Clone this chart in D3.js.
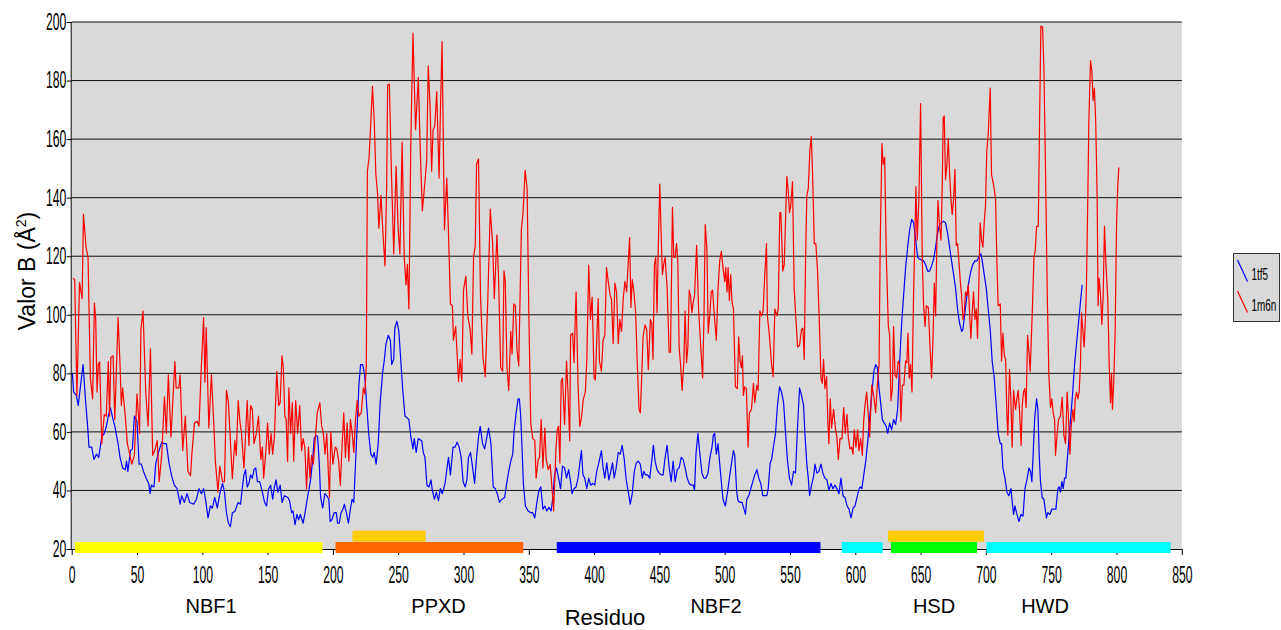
<!DOCTYPE html>
<html>
<head>
<meta charset="utf-8">
<script src="https://cdn.jsdelivr.net/npm/d3@7"></script>
<style>
  html, body { margin: 0; padding: 0; background: #ffffff; }
  svg { display: block; font-family: "Liberation Sans", Arial, sans-serif; }
</style>
</head>
<body>
<svg id="chart" width="1281" height="630"></svg>
<script>
// ---------- DATA ----------
const seriesNames = ["1tf5", "1m6n"];
const seriesColors = ["#0000ff", "#ff0000"];

// 1tf5 : [residue, B value]
const data1tf5 = [
[0.5,80],[1.5,73.6],[3.6,72.5],[5,69],[8.7,83],[10.5,71.3],[12,63],[13.3,54.8],[15.3,54.8],[17,50.6],[19,52.4],[20.7,51.3],[23,58.3],[25,59.5],[26.6,62],[28,65.4],[29.6,68.3],[31.7,64.2],[33,62],[35.5,56],[37,51.3],[39,47.7],[41,47.1],[42,50],[43,46.5],[45,53.6],[46.5,54.2],[48,65.4],[50,63.6],[51.6,49],[53.3,49],[55,46.5],[57,44.2],[59,42.4],[60,38.9],[61,41.8],[63,41.2],[64.3,49],[66.4,53],[69,56.5],[70.5,56],[72.5,56],[74.5,49.4],[76.6,44.8],[78.6,41.8],[80.7,40.6],[83,35.3],[84.2,38.2],[86.3,35.9],[88.3,38.9],[90.4,35.9],[93.4,35.3],[95.5,37],[97.5,40.6],[99.3,38.9],[101,40.6],[102.6,36.5],[104.4,30.6],[106.2,34.7],[107.7,34],[109.5,37.6],[111.5,34],[113.4,38.9],[115.5,42.4],[117,39.4],[118.5,32.3],[120,28.8],[121.5,27.6],[123,32.3],[125,32.9],[127.4,35.9],
[129.3,35.3],[130.6,40.6],[131.9,45.3],[133.1,47.1],[134.4,41.2],[135.7,42.4],[137,45.3],[138.3,44.2],[139.6,47.1],[140.9,47.7],[142.2,43],[144,43],[146,39.4],[147.7,35.9],[149.2,34.7],[150.8,40.6],[152.3,41.8],[153.9,37],[155.2,41.2],[156.5,43.6],[157.8,39.4],[159.6,41.8],[161.1,35.9],[162.9,38.2],[165.5,37.6],[166.8,36.5],[168.4,32.4],[169.4,33],[171,28.3],[172.5,31.8],[173.8,30],[175.1,31.8],[177.2,28.8],[178.7,32.4],[180.3,37],[181.8,40.6],[183.1,44.2],[184.4,50],[185.7,57.7],[187,58.9],[188.3,58.3],[189.6,49],[190.6,37.6],[192.2,34],[193.8,38.9],[195.3,38.2],[196.9,37],[197.9,29.4],[199.2,30],[201,32.4],[202.6,32.4],[203.6,28.8],[204.9,28.8],[206.2,32.4],[207.7,33.6],[208.8,35.3],[210.3,32.4],[211.9,28.8],[213.4,33.6],[214.7,37],[216,35.9],[217.3,49],[218.6,61.9],[219.9,76],[221.2,83],[222.8,83],[224.3,79.5],[225.9,69],[227.4,59.5],[229,52.4],[230.5,51.3],[231.6,53],[233.1,49],[234.7,56],[236.2,70],[238,80],[239.3,84.2],[240.6,90],[242.4,93],[244,91.3],[245,83],[246.6,84.8],
[247.4,95.4],[249,97.8],[250.5,94.3],[252,84.2],[253.6,73.6],[255.2,65.4],[256.8,64.8],[258.2,64.2],[259.7,58.3],[261.3,54.2],[262.3,57.7],[263.8,53],[265.4,57.7],[268,57],[269.2,53],[270.5,51.3],[272,41.8],[273.6,41.2],[275.1,43.6],[276.1,40.1],[277.7,37],[279.2,39.4],[280.8,36.5],[282.3,40.6],[283.8,38.9],[285.9,42.4],[287.4,47.7],[288.5,51.3],[290,45.3],[292,54.8],[293.6,54.8],[295.1,56.5],[296.7,54.8],[298.2,51.3],[299.7,43],[301.3,41.2],[302.6,43.6],[303.8,51.3],[305.4,53],[307,47.7],[308.5,42.4],[310,51.3],[311.5,58.3],[312.8,61.9],[314.6,56],[316.2,54.2],[317.7,57.7],[319.2,61.3],[321,56],[322.8,41.2],[324.4,40.6],[325.9,38.9],[327.5,35.9],[329.5,37],[331.5,37.6],[333.1,42.4],[334.6,46.5],[336.2,50],[337.7,52.4],[338.7,60],[340.3,66.5],[341.8,71.3],[342.8,71.3],[343.8,65.4],[344.9,53.6],[345.9,41.8],[347.4,34.7],[349.5,33],[351.5,32.4],[353,32.4],[354.6,30.6],[356.2,35.9],[357.7,40],[359.2,41.2],[360.8,33.6],[362.3,34.7],[363.8,33],[365.4,34.2],[367,33],[368,35.9],
[369.7,45.3],[371.2,47.7],[372.8,44.2],[374.3,40.6],[375.8,48.3],[377.4,47.7],[378.9,44.2],[380.5,47.1],[382,43],[383.1,38.9],[384.6,40.6],[386.2,41.2],[387.7,44.2],[389,49],[390.3,53.6],[391.5,45.3],[392.8,44.2],[394.4,40.6],[395.9,44.2],[397.4,41.8],[399,42.4],[400.5,41.8],[402,46.5],[403.6,49.4],[405.6,53.6],[406.9,47.7],[408.2,44.2],[409.7,49.4],[411.3,43.6],[412.8,46.5],[414.1,49.4],[415.4,44.2],[416.9,47.7],[418.5,53],[420,52.4],[421.5,55.4],[423.1,50.6],[424.6,43.6],[426.2,39.4],[427.7,35.3],[429.2,38.9],[430.8,46.5],[432.3,49.4],[433.8,50],[435.4,48.9],[436.9,44.2],[438,46.5],[439.5,45.3],[441,45.3],[442.6,44.2],[444.1,50],[445.4,55.4],[446.7,50],[448.2,47.1],[449.8,45.9],[451.3,45.3],[452.8,45.3],[454.4,51.3],[455.9,55.4],[457.5,47.7],[459,43],[460.5,50],[462.1,43],[463.6,47.1],[465.1,47.7],[466.7,51.3],[468.2,50.6],[469.7,47.7],[471.3,44.2],[472.8,42.4],[474.4,41.8],[475.9,41.8],[476.9,40],[478,52.4],[479.5,59.5],[481,52.4],[482.6,45.9],[484.1,44.2],[485.6,44.2],[487.2,45.9],[488.7,51.3],[490.3,54.8],[491.3,58.9],
[492.3,59.5],[493.6,52.4],[494.9,56],[496.2,49],[497.4,43],[498.7,37],[500.5,34.7],[502,38.9],[503.6,44.2],[505.1,49],[506.7,53.6],[507.7,52],[509.2,39.4],[510.2,36.5],[511.8,35.9],[513.3,35.9],[514.8,33.6],[515.9,31.8],[516.9,37],[518.4,38.2],[520,40.6],[521.5,43],[523,45.3],[524.6,47.1],[526.1,44.2],[527.6,42.4],[529.2,38.2],[530.7,38.2],[532.3,38.2],[533.3,40.6],[534.8,49.4],[535.9,50.6],[537.3,54.8],[538.9,59.5],[540.4,69],[542,75.4],[543.5,73.6],[545.1,70],[546.6,59.5],[548.1,50],[549.6,44.2],[551.2,41.8],[552.7,46.5],[554.2,45.9],[555.8,61.9],[557.3,75],[558.8,72.5],[560.4,69],[561.4,59.5],[562.9,49],[564,44.2],[565,38.2],[566.5,41.8],[568.1,44.8],[569.1,49],[570.6,45.9],[572.1,46.5],[573.7,49],[575.2,45.9],[576.7,44.2],[578.3,43.6],[579.8,40],[581.4,42.4],[582.9,40.6],[584.4,41.8],[586,40.6],[587.5,38.9],[589,44.2],[590.6,38.2],[592.1,37.6],[593.7,34.7],[595.2,33.6],[596.7,30.6],[598.3,34],[599.8,34.7],[601.3,37.6],[602.9,40.6],[603.9,41.2],[605,40.6],[606.5,45.3],[608,50],[609.6,57],[611.1,65.4],[612.6,72.5],[614.2,80.7],
[615.6,83],[616.9,81.9],[618.2,74.8],[619.4,70],[620.7,64.2],[622.2,63],[623.7,61.9],[624.8,59.5],[626.3,63],[627.8,60.7],[629.3,64.2],[630.9,62.5],[632.4,67.7],[633.9,83],[635.5,97.2],[637,106.6],[638.5,116.1],[640.1,123.1],[641.6,129],[643.2,132.6],[644.7,131.4],[646.2,125.5],[647.8,119.6],[649.3,119],[650.8,118.7],[652.3,118.4],[653.8,117.2],[655.4,114.9],[656.9,114.9],[658.4,116.7],[660,119],[661.5,123.1],[663,127.9],[664.5,130.8],[666.1,131.4],[667.6,132],[669.1,131.4],[670.7,127.9],[672.2,123.1],[673.7,118.4],[675.3,113.7],[676.8,109],[678.3,101.9],[679.8,97.2],[681.4,94.3],[682.4,94.9],[683.9,100.7],[685.5,106.6],[687,111.4],[688.5,114.9],[690,117.2],[691.6,118.4],[693.1,118.4],[694.6,119.6],[696.2,120.8],[697.2,118.4],[698.7,113.7],[700.3,109],[701.8,101.9],[703.3,94.9],[704.8,84.2],[706.4,78.4],[707.9,69],[709.4,59.5],[711,56],[712,56],[713,47.7],[714.6,44.2],[716.1,39.4],[717.6,38.2],[719.2,40.6],[720.2,35.9],[721.2,31.8],[722.2,34.7],[723.8,31.8],[725.3,29.4],[726.8,31.8],[728.4,31.2],[729.9,40.6],[731.4,43.6],[733,47.7],
[734.2,46.5],[735.2,43],[736.3,53.6],[737.3,64.2],[738.8,71.3],[739.8,67.7],[740.8,52.4],[741.8,43],[743.1,37.6],[744.4,37],[745.4,33.6],[746.4,30.6],[747.4,32.4],[749,31.8],[750.5,33.6],[752,33.6],[753.6,33.6],[755.1,40.6],[756.1,41.2],[757.1,39.4],[758.2,43],[759.2,40.6],[760.2,44.2],[761.2,44.2],[762.2,50],[763.5,57],[764.8,64.2],[766.3,72.5],[767.9,83],[769.4,90.2],[770.9,97.2],[772.4,104.3],[773.7,110.2]
];

// 1m6n : [residue, B value]
const data1m6n = [
[1,112.5],[2.3,112],[4,72.5],[6,111],[8,105.5],[9,134.3],[11,123],[12.5,119.6],[14.3,78.4],[16,71.3],[17.4,104],[18.4,98.4],[19.4,73.6],[20.4,83],[21.4,84],[23,56],[25,66],[26.5,65.4],[28,84],[29,65.4],[30,85.4],[31.7,86],[33,64.2],[35.5,99],[37,83],[38,69],[39,75],[41,65.4],[42.6,56],[44.4,52.4],[46,49],[48,52],[50,73],[52,59.5],[53,95],[54.6,101.3],[56.7,73.6],[58.5,62],[60.3,88.4],[62,52],[63.6,53.6],[65.5,57],[67,43],[69,52.4],[71,72],[72.5,59.5],[74,79.5],[76,58.3],[79,84],[80,75],[82,75],[83,79.5],[85,53.6],[87,65.4],[89,46.5],[91,45],[92,52.4],[94,63],[96,63.6],[97.5,62],[99,79.5],[101,99],[102,77],[103,95.6],[105,61.3],[107,79.5],[109,60.7],[110,50],[112,39.4],[113.4,48.3],[115.5,43],[117,43],[118.5,74.2],[120,70],
[123,44],[124.9,57],[126,52],[127.5,70.7],[128.8,63.6],[130,59.5],[131.9,47.7],[134.4,70.7],[135.7,55.4],[137,69],[138.3,67.7],[139.6,56],[141.4,59.5],[143,65.4],[144.8,50.6],[146,54.8],[147,44.2],[148.7,53.6],[150,63],[151.3,52.4],[152.6,59.5],[153.9,52.4],[155.2,58.3],[157,80.7],[158.5,69],[159.6,70],[161,86],[162,82],[163.2,65.4],[164.2,64.2],[165.3,50],[166.3,75],[167.6,59.5],[168.9,70],[170,50],[171.5,70.7],[173,59.5],[174.6,69],[176,53.6],[177.2,57.7],[178.5,54.8],[179.8,40.6],[181.3,54.8],[182.4,44.2],[183.7,52],[185,49],[186.5,57.7],[188,66.5],[190,70],[191.4,62],[192.7,59.5],[194,52.4],[195.3,59.5],[196.6,45.3],[197.4,37.7],[198.4,60],[200,49],[201.8,54.8],[203,54.2],[204.4,50],[205.7,41.8],[207,54.8],[208.3,66.5],[209.6,51.3],[210.9,63],[212.2,50],[213.4,64.2],[214.7,60],[216,53],[217.3,64.2],[218.6,70.7],[219.9,65.4],[221.7,66.5],[223.3,75],[224.5,73],[225.6,83],[226.4,149],[227.7,153.8],[229,165.6],[230.3,178],[231.6,166.8],[232.9,148],[234.2,141.4],[235.2,129.6],[236.8,140.8],[238.3,127.9],[239.9,116.7],[241.2,145],[241.9,178.5],[243.2,178.8],[244.8,149],[246.6,120.8],
[248.4,150.8],[250,129],[251.3,120.8],[253,159],[254.6,119.6],[256,110.2],[257,117.2],[258.2,102],[259.7,159.7],[261.3,196.2],[263.3,163.2],[265.4,181],[266.9,156.1],[268.5,135.5],[270.5,145.5],[271.8,152.6],[273,185],[274.4,171.5],[275.6,149],[276.7,163.2],[278,164.4],[279.5,176.2],[281.3,146.7],[282.3,169.1],[283.6,193.3],[285.4,129],[287.2,146.7],[288.5,127.9],[290,103.7],[291.5,103.1],[292.3,91.3],[294,96],[296.2,77.2],[297.4,84.8],[298.7,77.2],[300,108.4],[301.8,113.2],[303.3,99.6],[305.1,94.9],[306.4,86.6],[307.7,119.6],[309,123.7],[310,151.4],[311.5,153.2],[313,106.6],[314.9,85.4],[316.7,78.9],[318.7,106.6],[320.5,136.1],[322.3,124.3],[323.6,105.5],[325.6,127.3],[326.9,111.4],[328.5,81.9],[330,80.7],[331,115],[332,111.4],[333.3,81.9],[334.6,74.2],[336.2,94.3],[337.2,86.6],[338.5,103.7],[339.7,103.1],[341,87.8],[342.3,82.5],[344.3,129],[345.6,134.9],[347.2,149.3],[348.7,143.2],[350,101.3],[351.5,63],[353,57.7],[354.6,57.1],[355.6,44.2],[357.2,50.6],[358.2,51.3],[359.5,64.2],[360.8,47.7],[362.3,61.3],[363.3,50.6],[364.9,47.1],[366.4,48.9],[367.4,43],[369,33],
[370.8,54.2],[371.8,60.7],[372.8,61.9],[373.8,49.4],[374.8,77.2],[375.8,78.4],[377.4,62.5],[378.9,84.2],[380,73.6],[381.3,57],[382,93],[383.6,93.7],[384.6,83.6],[386.2,107.8],[387.7,76],[389,61.9],[390.3,64.8],[391.8,71.3],[393.3,73.6],[394.4,84.2],[395.9,117],[397.2,98.4],[398.5,106],[400,78.4],[401,77.8],[403.1,105.5],[404.1,84.2],[405.6,80.7],[406.9,91.3],[408.2,93],[409.5,116.1],[410.8,111.4],[412.3,106.6],[413.3,105.5],[414.6,90.2],[415.9,110.8],[417.2,107.8],[418.5,90.2],[419.7,98.4],[421,94.3],[422.3,105.5],[423.6,111.4],[424.9,107.8],[426.2,118.4],[427.2,126.4],[428.2,102.5],[429.2,112],[430.5,107.8],[431.8,100.7],[433.1,83],[434.4,67.7],[435.4,66.5],[436.5,79.5],[437.5,92.5],[439,96.6],[440.3,94.9],[441.5,81.3],[443.1,98.4],[444.1,97.2],[445.1,84.8],[446.2,117.2],[447.2,119.6],[448.2,100.7],[449.2,124.3],[450.3,144.6],[451.3,127.9],[452.3,113.7],[453.3,117.2],[454.4,119.6],[455.9,109],[457.5,87.2],[458.5,87.2],[460,136.7],[461,119.6],[462.1,119.6],[463.1,124.3],[464.1,118.4],[465.1,89],[466.2,83],[467.4,74.2],[468.7,83.6],[469.7,101.3],[470.8,83.6],[471.8,89],[472.8,108.4],[473.8,106.6],[474.9,100.7],[475.9,104.3],[476.9,106.6],[478.5,123.7],[480,101.9],[481.5,90.2],[483.1,78.4],[484.1,98.4],[485.1,130.8],[486.4,122.5],[487.4,93.7],[488.7,100.7],[489.7,107.8],[490.7,108.4],
[492.3,98.4],[493.6,91.3],[494.9,109],[496.2,118.4],[497.4,121.7],[498.7,116.1],[500,111.4],[500.8,116.1],[501.8,107.8],[502.6,116.1],[503.6,104.9],[504.6,113.7],[505.6,104.3],[506.7,102],[508.2,75.4],[509.7,74.8],[510.7,92.5],[511.8,84.2],[512.8,81.9],[513.6,86],[514.3,72.5],[515.3,75.4],[516.6,74.8],[517.9,54.8],[518.9,66.5],[520.5,67.7],[522,76.6],[523,70],[524.6,75.9],[525.6,74.2],[526.9,101.3],[528.2,99.6],[529.4,101.3],[530.7,113.7],[532,124.3],[532.7,99.6],[534.3,92.5],[535.9,83],[537.1,78.9],[538.4,102],[540,99.6],[541,102],[542.2,134.9],[543,134.9],[544.5,114.9],[545.6,117.2],[546.6,132.6],[547.6,147.3],[548.7,142],[549.6,134.9],[550.6,137.3],[551.9,145.5],[553.2,109],[554.7,97.2],[555.8,89],[557.3,89.6],[558.8,94.9],[559.9,95.4],[560.9,84.8],[561.9,118.4],[562.9,140.8],[564,143.2],[565.2,156.1],[566.3,160.9],[567.3,147.9],[568.6,124.3],[569.8,124.3],[571.1,114.9],[572.4,98.4],[573.7,78.4],[574.7,76.6],[575.7,84.8],[576.7,74.8],[578,78.9],[579,63],[579.8,56],[580.8,71.3],[581.8,61.3],[583.4,67.7],[584.9,60.7],[585.9,58.3],[587,50.6],[588.3,57.7],[589.8,57.7],[591.1,68.3],[592.3,59.5],[593.6,66],[594.6,58.3],[595.9,54.2],[597.2,54.8],[598.2,52.4],[599.2,60.7],[600.5,54.8],[601.8,60.7],[602.8,53.6],[604.1,57.7],[605.4,52],[606.4,63.6],[607.4,69],[608.7,73.6],[610,65.4],[611,58.3],[612.6,76],[614.1,72.5],
[615.6,66.6],[616.9,76],[618.2,83],[619.1,125.5],[620.4,158.5],[621.4,151.4],[622.5,153.8],[623.7,120.8],[625.3,96],[626.3,93],[627.3,70.7],[628.4,74.8],[629.3,96],[630.4,79.5],[631.6,78.4],[632.9,84.2],[633.9,83],[634.9,63.6],[636,76],[637.2,76],[638.5,84.2],[639.5,83.6],[640.3,93.7],[641.3,78.4],[642.3,83],[643.4,73.6],[644.6,106.6],[645.7,127.9],[646.4,143.8],[647.4,125.5],[648.7,139.6],[650,172.1],[651.3,118.4],[652.3,103.1],[653.4,96],[654.4,103.1],[655.9,102.5],[657.1,90.2],[658.4,78.4],[659.4,90.2],[660.5,110.8],[661.5,99.6],[662.5,125.5],[663.3,139],[664.5,130.2],[665.6,125.5],[666.6,144.4],[667.3,167.3],[668.1,167.9],[669.1,146.1],[670.2,151.4],[671.2,160.3],[672.2,148.5],[673.2,139.6],[674.2,134.3],[675.3,139.6],[676.3,149.7],[677.3,123.7],[678.3,124.3],[679.3,118.4],[680.4,111.4],[681.4,106.6],[682.4,98.4],[683.4,100.7],[684.4,107.8],[685.5,106.6],[686.5,110.2],[687.5,100.7],[688.5,91.9],[689.5,100.7],[690.5,107.8],[691.6,98.4],[692.6,102],[693.6,91.9],[694.6,110.2],[695.6,131.4],[696.7,125.5],[697.7,123.1],[698.7,131.4],[699.7,137.3],[700.7,156.1],[701.8,162],[703.3,177.4],[704.3,147.9],[705.9,144.4],[707.4,139.6],[708.4,118.4],[709.4,103.1],[711,103.7],[712,84.2],[713,93.7],[714.1,86],[715.1,84.8],[716.1,65.4],[716.8,58.9],[718.1,81.3],[719.1,71.3],[720.1,54.8],[721.2,74.2],[722.7,67.7],[723.7,71.3],[724.7,74.2],[725.7,67.7],[727,55.4],[727.8,68.9],[728.8,73.6],[729.8,74.8],[730.8,68.3],[731.9,93],[732.9,87.8],[733.9,80.7],
[735.5,100.7],[736.8,119.6],[737.8,122],[738.8,130.2],[740.1,130.2],[741.1,165.6],[742.1,198.6],[743.4,198.3],[744.4,184.4],[745.7,147.9],[747,106.6],[748.2,79.5],[749.5,68.3],[750.5,71.3],[751.5,66.6],[752.6,64.2],[753.3,52],[754.6,59.5],[755.6,64.2],[757.1,65.4],[758.4,71.9],[759.7,58.9],[761,56],[762.2,73.6],[763.3,64.2],[764.3,52.4],[765.3,61.9],[766.6,67.7],[767.6,63.6],[768.4,71.3],[769.4,73.6],[770.4,71.3],[771.4,73.6],[772.4,83],[773.2,100.7],[774.2,94.9],[775.2,89],[776.3,99.6],[777,110.2],[778.1,142],[778.8,165.6],[780.1,186.8],[781.1,183.3],[782.1,173.2],[783.1,177.4],[784.1,165.6],[785.2,139.6],[785.9,103.1],[786.7,112.5],[787.8,106.6],[788.8,96.7],[789.8,106.6],[790.8,130.2],[791.8,118.4],[793.3,105.5],[794.4,83],[795.4,70],[796.2,80],[796.9,67.7],[797.9,77.2],[799,94.9],[800,130.2],[801,144.4],[801.8,150.3]
];

// Domain bars
const domainStart = [2.5, 202, 215, 371.4, 589.6, 627.3, 625, 700.4];
const domainEnd   = [192, 345.8, 271, 573.3, 621, 693.2, 698.5, 841.5];
const domainLevel = [20.5, 20.5, 24.4, 20.5, 20.5, 20.5, 24.4, 20.5];
const domainColor = ["#ffff00", "#ff6600", "#ffcc00", "#0000ff", "#00ffff", "#00ff00", "#ffcc00", "#00ffff"];

// Domain labels
const domainLabels = ["NBF1", "PPXD", "NBF2", "HSD", "HWD"];
const domainLabelPos = [106.7, 280.9, 493.3, 660.3, 745.3];

// Axes
const xTicks = [0, 50, 100, 150, 200, 250, 300, 350, 400, 450, 500, 550, 600, 650, 700, 750, 800, 850];
const yTicks = [20, 40, 60, 80, 100, 120, 140, 160, 180, 200];
const xTitle = "Residuo";
const yTitle = "Valor B (Å";

// ---------- DRAW ----------
const svg = d3.select("#chart");
const plot = { left: 71.7, right: 1181.8, top: 22, bottom: 549 };
const x = d3.scaleLinear().domain([0, 850]).range([plot.left, plot.right]);
const y = d3.scaleLinear().domain([20, 200]).range([plot.bottom, plot.top]);
const condense = 0.53;

// plot background
svg.append("rect")
  .attr("x", plot.left).attr("y", plot.top)
  .attr("width", plot.right - plot.left).attr("height", plot.bottom - plot.top)
  .attr("fill", "#d9d9d9");

// gridlines
svg.append("g").selectAll("line").data(yTicks.filter(d => d > 20)).join("line")
  .attr("x1", plot.left).attr("x2", plot.right)
  .attr("y1", d => y(d)).attr("y2", d => y(d))
  .attr("stroke", "#111").attr("stroke-width", 1);

// series
const line = d3.line().x(d => x(d[0])).y(d => y(d[1]));
[data1tf5, data1m6n].forEach((ser, i) => {
  svg.append("path").datum(ser)
    .attr("d", line)
    .attr("fill", "none")
    .attr("stroke", seriesColors[i])
    .attr("stroke-width", 1.2)
    .attr("stroke-linejoin", "round");
});

// axes
const xAxis = svg.append("g").attr("transform", `translate(0,${plot.bottom})`)
  .call(d3.axisBottom(x).tickValues(xTicks).tickFormat(d3.format("d")).tickSize(6).tickPadding(11.7));
xAxis.select(".domain").attr("stroke", "#000").attr("d", `M${plot.left},0.5H${plot.right}`);
xAxis.selectAll(".tick line").attr("stroke", "#000");
xAxis.selectAll(".tick text")
  .attr("font-size", 23).attr("font-family", "Liberation Sans, Arial, sans-serif")
  .attr("fill", "#000")
  .attr("transform", `scale(${condense},1)`);

const yAxis = svg.append("g").attr("transform", `translate(${plot.left},0)`)
  .call(d3.axisLeft(y).tickValues(yTicks).tickFormat(d3.format("d")).tickSize(5).tickPadding(0.5));
yAxis.select(".domain").attr("stroke", "#000").attr("d", `M-0.5,${plot.top}V${plot.bottom}`);
yAxis.selectAll(".tick line").attr("stroke", "#000");
yAxis.selectAll(".tick text")
  .attr("font-size", 23).attr("font-family", "Liberation Sans, Arial, sans-serif")
  .attr("fill", "#000")
  .attr("x", -5.5 / condense)
  .attr("transform", `scale(${condense},1)`);

// domain bars
const barH = 11;
svg.append("g").selectAll("rect").data(domainStart.map((s, i) => i)).join("rect")
  .attr("x", i => x(domainStart[i]))
  .attr("width", i => x(domainEnd[i]) - x(domainStart[i]))
  .attr("y", i => y(domainLevel[i]) - barH / 2)
  .attr("height", barH)
  .attr("fill", i => domainColor[i]);

// domain labels
svg.append("g").selectAll("text").data(domainLabels).join("text")
  .attr("x", (d, i) => x(domainLabelPos[i]))
  .attr("y", 613)
  .attr("text-anchor", "middle")
  .attr("font-size", 20)
  .attr("fill", "#000")
  .text(d => d);

// axis titles
svg.append("text")
  .attr("x", 605).attr("y", 625)
  .attr("text-anchor", "middle")
  .attr("font-size", 22)
  .attr("fill", "#000")
  .text(xTitle);

const yt = svg.append("text")
  .attr("transform", "translate(35,271) rotate(-90)")
  .attr("text-anchor", "middle")
  .attr("font-size", 23)
  .attr("fill", "#000");
yt.append("tspan").text(yTitle);
yt.append("tspan").attr("font-size", 14).attr("dy", -9).text("2");
yt.append("tspan").attr("dy", 9).text(")");

// legend
const lg = svg.append("g");
lg.append("rect").attr("x", 1233.5).attr("y", 253.5).attr("width", 46).attr("height", 68)
  .attr("fill", "#d9d9d9").attr("stroke", "#333").attr("stroke-width", 1);
seriesNames.forEach((name, i) => {
  const oy = 260 + i * 31;
  lg.append("line")
    .attr("x1", 1237.5).attr("y1", oy)
    .attr("x2", 1247.5).attr("y2", oy + 21.5)
    .attr("stroke", seriesColors[i]).attr("stroke-width", 1.2);
  lg.append("text")
    .attr("transform", `translate(1251.5,${oy + 20}) scale(0.62,1)`)
    .attr("font-size", 16)
    .attr("fill", "#000")
    .text(name);
});
</script>
</body>
</html>
